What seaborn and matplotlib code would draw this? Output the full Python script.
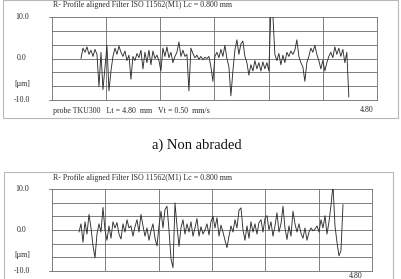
import numpy as np
import pandas as pd
import matplotlib
matplotlib.use("Agg")
import matplotlib.pyplot as plt
from matplotlib.patches import Rectangle
import seaborn as sns

sns.set_theme(style="white")
plt.rcParams['font.family'] = ['Liberation Serif', 'DejaVu Serif']

# ---------------- data ----------------
title_text = "R- Profile aligned Filter ISO 11562(M1) Lc = 0.800 mm"
probe_text = "probe TKU300   Lt = 4.80  mm   Vt = 0.50  mm/s"
end_label = "4.80"
y_tick_labels = ["10.0", "0.0", "[\u00b5m]", "-10.0"]
caption_a = "a) Non abraded"

# profile heights in µm (non abraded)
profile_a = [0, 2.5, 1.5, 2.8, 1.0, 2.0, 0.5, 2.2, 1.0, -6.8, 1.5, -7.5, -2, 3.2, -7.8, -3,
             0.5, 2.5, 1.0, 3.0, 1.5, 0.5, 1.8, -0.5, 0.8, -5.0, 0.5, -0.5, 1.2, 0.2, 2.0, -2.5,
             1.5, -1.0, 2.0, -1.5, 1.8, 0.0, 0.8, -0.5, -3.0, 2.5, 0.5, 2.8, 0.2, 1.5, -1.0, 0.5,
             1.5, 4.0, 0.5, 2.0, 0.5, 1.0, -7.8, 2.5, 1.2, 0.2, 0.8, -0.2, 0.5, -0.3, 0.3, 0.0,
             0.5, -2.0, -5.5, 0.5, 1.5, 0.2, 2.2, 0.5, 3.2, 0.0, -2.0, -9.0, -3.0, 2.0, 4.5, 1.0,
             3.5, 4.2, 0.5, -1.0, -4.0, -1.5, -3.0, -0.5, -2.5, -1.0, -3.0, -0.8, -2.5, -1.0, -3.0,
             11.5, 10.5, 1.0, -0.5, 1.2, -1.5, 0.8, -1.0, 1.5, 0.5, 1.8, 1.0, 2.0, 4.5, 0.5, -1.0,
             -2.0, -5.5, -1.0, 0.5, 2.5, 1.5, 3.2, 1.0, -0.5, -2.5, -0.5, -3.0, -1.0, 0.5, 1.5,
             0.2, 2.8, 1.0, 2.5, 0.5, 2.2, -1.0, 1.5, -9.3]

# profile heights in µm (abraded)
profile_b = [-0.5, 1.5, -3.0, 2.0, -1.0, 3.8, 0.5, -3.8, -6.8, -1.0, 1.5, -0.5, 5.5, 0.0, -2.5,
             1.0, -2.0, 2.0, 0.5, 1.8, -1.0, -2.2, 1.5, -0.5, 2.5, 0.5, 1.0, -1.5, 0.8, 2.5, -0.5,
             3.8, 1.0, -1.5, 0.5, -2.5, -0.2, 1.5, -2.0, -3.9, 1.0, 4.6, 0.5, 5.0, 5.8, 0.0, -7.0,
             -9.2, 6.6, 1.0, -4.0, 0.5, 2.5, -1.0, 1.5, -0.5, 2.0, -1.5, 0.5, 2.8, -1.5, 0.8, -1.0,
             0.0, 1.5, -1.2, 2.0, 3.4, 0.5, 3.0, -1.5, 1.2, -0.5, -2.5, -4.3, -1.5, 1.0, -0.5, 2.5,
             0.5, 4.8, 5.4, 0.0, -2.5, 1.0, -2.0, 2.0, -0.5, 1.5, -1.0, 1.8, 2.5, -0.5, 2.8, 3.5,
             0.0, 2.0, -1.5, 1.0, 4.2, -0.5, 1.5, 5.8, 0.5, -2.3, 1.0, -1.5, 4.6, 1.5, -0.5, 1.5,
             -0.8, -2.0, 0.5, -2.5, -0.5, 0.5, -0.2, 0.2, 1.0, -0.5, 2.5, 0.5, 3.5, -1.0, 2.0, 6.0,
             11.0, 1.0, -3.0, -6.3, -5.0, 6.2]

# trace extent along the axis (axis divisions 0..6)
trace_a = (0.535, 5.48)
trace_b = (0.506, 5.456)

df_a = pd.DataFrame({"x": np.linspace(trace_a[0], trace_a[1], len(profile_a)), "z": profile_a})
df_b = pd.DataFrame({"x": np.linspace(trace_b[0], trace_b[1], len(profile_b)), "z": profile_b})

# ---------------- layout ----------------
W, H = 402, 279
fig = plt.figure(figsize=(W / 100, H / 100), dpi=100)


def fx(px):
    return px / W


def fy(py):
    return 1 - py / H


GRID_C = "#6a6a6a"
LINE_C = "#2e2e2e"
TEXT_C = "#2a2a2a"
FS = 5.7
SERIF = ['Liberation Serif', 'DejaVu Serif']

# frames around each panel
fig.patches.append(Rectangle((fx(3.5), fy(118)), fx(394.5), 118 / H, transform=fig.transFigure,
                             fill=False, edgecolor="#b8b8b8", linewidth=0.8))
fig.patches.append(Rectangle((fx(4.5), fy(279.5)), fx(389), (279.5 - 172) / H, transform=fig.transFigure,
                             fill=False, edgecolor="#b8b8b8", linewidth=0.8))


def panel(df, left, right, top, bottom, ttl_y, probe_y, end_x, end_y):
    ax = fig.add_axes([fx(left), fy(bottom), fx(right - left), (bottom - top) / H])
    ax.set_xlim(0, 6)
    ax.set_ylim(-10, 10)
    for v in np.linspace(-10, 10, 7)[1:-1]:
        ax.axhline(v, color=GRID_C, lw=0.6, zorder=1)
    for v in range(1, 6):
        ax.axvline(v, color=GRID_C, lw=0.6, zorder=1)
    sns.lineplot(data=df, x="x", y="z", ax=ax, color=LINE_C, lw=0.65, sort=False,
                 estimator=None, zorder=3)
    ax.set_xticks([])
    ax.set_yticks([])
    ax.set_xlabel("")
    ax.set_ylabel("")
    for s in ax.spines.values():
        s.set_color(GRID_C)
        s.set_linewidth(0.6)
    # small ticks at +-10
    for v in (10, -10):
        ax.plot([-0.05, 0], [v, v], color=GRID_C, lw=0.6, clip_on=False)
    ax.patch.set_alpha(0)
    mid = (top + bottom) / 2
    ylab_pos = [top, mid, mid + (bottom - top) * 0.31, bottom]
    for lab, py in zip(y_tick_labels, ylab_pos):
        fig.text(fx(22), fy(py), lab, ha="center", va="center", fontsize=FS, color=TEXT_C,
                 family=SERIF)
    fig.text(fx(53), fy(ttl_y), title_text, ha="left", va="center", fontsize=FS, color=TEXT_C,
             family=SERIF)
    if probe_y is not None:
        fig.text(fx(53), fy(probe_y), probe_text, ha="left", va="center", fontsize=FS,
                 color=TEXT_C, family=SERIF)
    fig.text(fx(end_x), fy(end_y), end_label, ha="center", va="center", fontsize=FS,
             color=TEXT_C, family=SERIF)
    return ax


panel(df_a, 52, 377, 17, 100, 5, 111, 367, 110)
panel(df_b, 52, 372, 189, 271, 177.5, None, 356, 275.5)

fig.text(fx(197), fy(145), caption_a, ha="center", va="center", fontsize=10.5,
         color="#111111", family=SERIF)

fig.savefig("out.png", dpi=100)
